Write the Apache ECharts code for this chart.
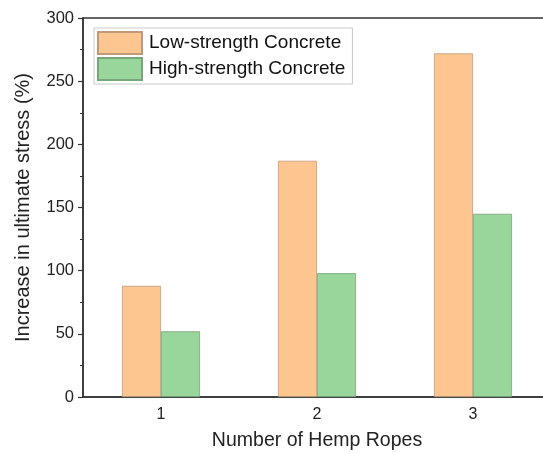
<!DOCTYPE html>
<html>
<head>
<meta charset="utf-8">
<script src="https://cdn.jsdelivr.net/npm/echarts@6/dist/echarts.min.js"></script>
<style>
  html, body { margin: 0; padding: 0; background: #fff; overflow: hidden; }
  /* the plot frame continues a few pixels past the right edge of the view */
  #chart { width: 552px; height: 453px; }
</style>
</head>
<body>
<div id="chart"></div>
<script>
// Number of hemp ropes wrapped around the specimen
const ropeCounts = ['1', '2', '3'];
// Increase in ultimate stress (%) per concrete type
const lowStrength = [88, 187, 272];
const highStrength = [52, 98, 145];
const yTicks = [0, 50, 100, 150, 200, 250, 300];

const chart = echarts.init(document.getElementById('chart'));
const font = 'Arial, "Liberation Sans", sans-serif';

chart.setOption({
  animation: false,
  backgroundColor: '#fff',
  grid: {
    left: 83, top: 18, width: 468, height: 379,
    outerBoundsMode: 'none',
    show: true, borderColor: '#333', borderWidth: 1.5, backgroundColor: 'transparent'
  },
  legend: {
    orient: 'vertical',
    left: 94, top: 28,
    icon: 'rect',
    itemWidth: 44, itemHeight: 22, itemGap: 2,
    padding: [3, 7, 3, 3],
    borderColor: '#c8c8c8', borderWidth: 1,
    textStyle: { fontFamily: font, fontSize: 19, color: '#111', padding: [0, 0, 0, 2] },
    data: ['Low-strength Concrete', 'High-strength Concrete']
  },
  xAxis: {
    type: 'category',
    data: ropeCounts,
    name: 'Number of Hemp Ropes',
    nameLocation: 'middle',
    nameGap: 34,
    nameTextStyle: { fontFamily: font, fontSize: 19.5, color: '#222' },
    axisLine: { lineStyle: { color: '#333', width: 1.5 } },
    axisTick: { show: false },
    axisLabel: { fontFamily: font, fontSize: 16, color: '#222', margin: 10 }
  },
  yAxis: {
    type: 'value',
    min: 0, max: 300, interval: 50,
    name: 'Increase in ultimate stress (%)',
    nameLocation: 'middle',
    nameGap: 50,
    nameTextStyle: { fontFamily: font, fontSize: 20, color: '#222' },
    axisLine: { show: true, lineStyle: { color: '#333', width: 1.5 } },
    axisTick: { show: true, inside: false, length: 5, lineStyle: { color: '#333', width: 1.2 } },
    minorTick: { show: true, splitNumber: 2, length: 3, lineStyle: { color: '#333', width: 1 } },
    splitLine: { show: false },
    axisLabel: {
      fontFamily: font, fontSize: 16.5, color: '#222', margin: 9,
      formatter: v => yTicks.includes(v) ? String(v) : ''
    }
  },
  series: [
    {
      name: 'Low-strength Concrete',
      type: 'bar',
      data: lowStrength,
      barWidth: 39,
      barGap: '0%',
      itemStyle: { color: '#FDC590', borderColor: '#C09A78', borderWidth: 0.8 }
    },
    {
      name: 'High-strength Concrete',
      type: 'bar',
      data: highStrength,
      barWidth: 39,
      barGap: '0%',
      itemStyle: { color: '#98D69B', borderColor: '#78A57A', borderWidth: 0.8 }
    }
  ]
});
</script>
</body>
</html>
